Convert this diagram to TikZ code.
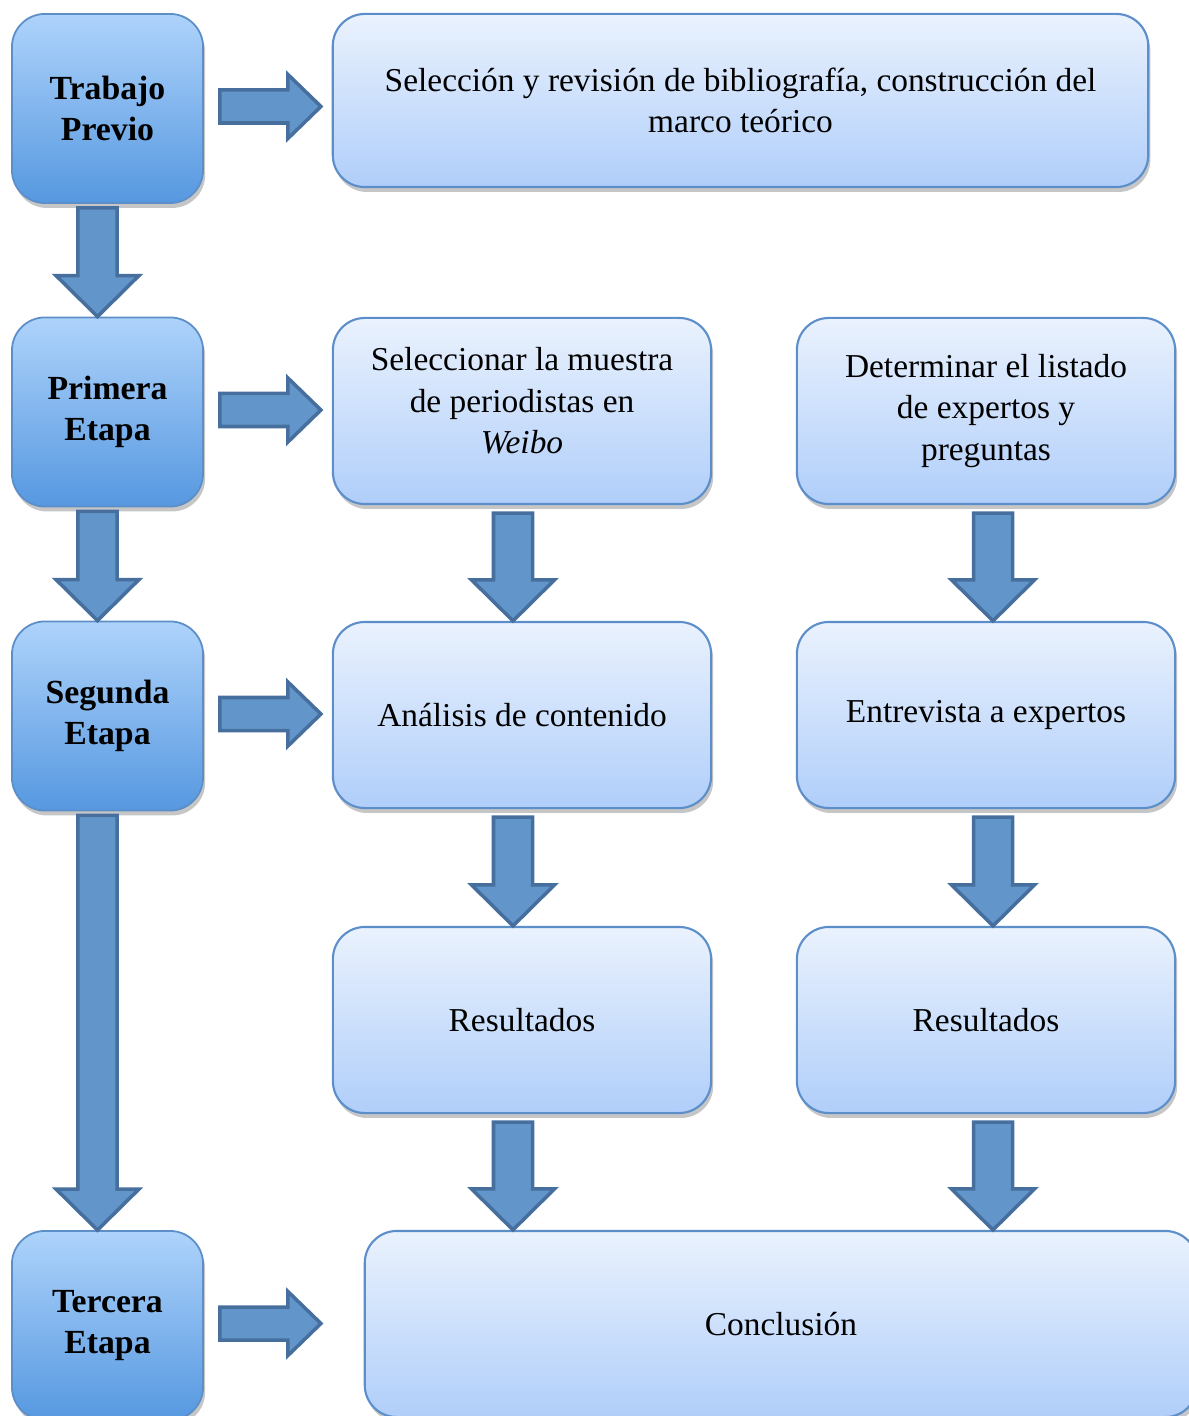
\documentclass[tikz,border=0pt]{standalone}
\usepackage{fontspec}
\setmainfont{Liberation Serif}
\usetikzlibrary{positioning, calc, shadows}

\definecolor{stagetop}{RGB}{174,211,251}
\definecolor{stagebot}{RGB}{86,152,224}
\definecolor{stageline}{RGB}{92,142,200}
\definecolor{boxtop}{RGB}{234,242,253}
\definecolor{boxbot}{RGB}{176,206,250}
\definecolor{boxline}{RGB}{92,142,202}
\definecolor{arrfill}{RGB}{98,150,202}
\definecolor{arrline}{RGB}{70,111,158}

% block arrow from #1 to #2, shaft half width #3, head half width #4, head length #5
\newcommand{\bigarrow}[5]{%
  \draw[blockarr] let \p1=#1, \p2=#2,
      \n1={veclen(\x2-\x1,\y2-\y1)}, \n2={atan2(\y2-\y1,\x2-\x1)} in
    [shift={(\p1)}, rotate=\n2]
    (0pt,-#3) -- (\n1*1pt-#5,-#3) -- (\n1*1pt-#5,-#4) -- (\n1*1pt,0pt)
    -- (\n1*1pt-#5,#4) -- (\n1*1pt-#5,#3) -- (0pt,#3) -- cycle;}

\begin{document}
\begin{tikzpicture}[
    x=0.01cm, y=0.01cm,
    every node/.style={font=\fontsize{9.5pt}{11.8pt}\selectfont, align=center},
    stagebox/.style={draw=stageline, line width=0.5pt, rounded corners=0.33cm,
      top color=stagetop, bottom color=stagebot, font=\fontsize{9.6pt}{11.8pt}\selectfont\bfseries,
      minimum width=1.91cm, minimum height=1.89cm,
      drop shadow={shadow xshift=0.6pt, shadow yshift=-1.4pt, opacity=0.45}},
    stepbox/.style={draw=boxline, line width=0.6pt, rounded corners=0.32cm,
      top color=boxtop, bottom color=boxbot,
      minimum width=3.78cm, minimum height=1.86cm,
      drop shadow={shadow xshift=0.6pt, shadow yshift=-1.4pt, opacity=0.45}},
    blockarr/.style={fill=arrfill, draw=arrline, line width=1pt, line join=miter}
  ]
  \useasboundingbox (0,0) rectangle (1189,-1416);
  \clip (0,0) rectangle (1189,-1416);

  % stages
  \node[stagebox] (t0) at (107.5,-108.5) {Trabajo\\Previo};
  \node[stagebox] (t1) at (107.5,-412) {Primera\\Etapa};
  \node[stagebox] (t2) at (107.5,-716) {Segunda\\Etapa};
  \node[stagebox] (t3) at (107.5,-1325.5) {Tercera\\Etapa};

  % steps
  \node[stepbox, minimum width=8.15cm, minimum height=1.73cm] (c0) at (740.5,-100.5)
    {Selección y revisión de bibliografía, construcción del\\marco teórico};
  \node[stepbox] (m1) at (522,-411) {Seleccionar la muestra\\de periodistas en\\\textit{Weibo}\\[-6pt]};
  \node[stepbox] (r1) at (986,-411) {Determinar el listado\\de expertos y\\preguntas};
  \node[stepbox] (m2) at (522,-715) {Análisis de contenido};
  \node[stepbox] (r2) at (986,-715) {Entrevista a expertos};
  \node[stepbox] (m3) at (522,-1020) {Resultados};
  \node[stepbox] (r3) at (986,-1020) {Resultados};
  \node[stepbox, minimum width=8.32cm] (fin) at (781,-1324) {Conclusión};

  % stage arrows
  \bigarrow{($(t0.south)+(-10,-4)$)}{($(t1.north)+(-10,0)$)}{0.195cm}{0.415cm}{0.41cm}
  \bigarrow{($(t1.south)+(-10,-4)$)}{($(t2.north)+(-10,0)$)}{0.195cm}{0.415cm}{0.41cm}
  \bigarrow{($(t2.south)+(-10,-4)$)}{($(t3.north)+(-10,0)$)}{0.195cm}{0.415cm}{0.41cm}

  % stage to step arrows
  \foreach \s in {t0,t1,t2,t3}{
    \bigarrow{($(\s.east)+(16,2)$)}{($(\s.east)+(117,2)$)}{0.165cm}{0.32cm}{0.33cm}
  }

  % step arrows
  \bigarrow{($(m1.south)+(-9,-8)$)}{($(m2.north)+(-9,0)$)}{0.195cm}{0.415cm}{0.41cm}
  \bigarrow{($(m2.south)+(-9,-8)$)}{($(m3.north)+(-9,0)$)}{0.195cm}{0.415cm}{0.41cm}
  \bigarrow{($(m3.south)+(-9,-8)$)}{($(m3.south |- fin.north)+(-9,0)$)}{0.195cm}{0.415cm}{0.41cm}
  \bigarrow{($(r1.south)+(7,-8)$)}{($(r2.north)+(7,0)$)}{0.195cm}{0.415cm}{0.41cm}
  \bigarrow{($(r2.south)+(7,-8)$)}{($(r3.north)+(7,0)$)}{0.195cm}{0.415cm}{0.41cm}
  \bigarrow{($(r3.south)+(7,-8)$)}{($(r3.south |- fin.north)+(7,0)$)}{0.195cm}{0.415cm}{0.41cm}
\end{tikzpicture}
\end{document}
